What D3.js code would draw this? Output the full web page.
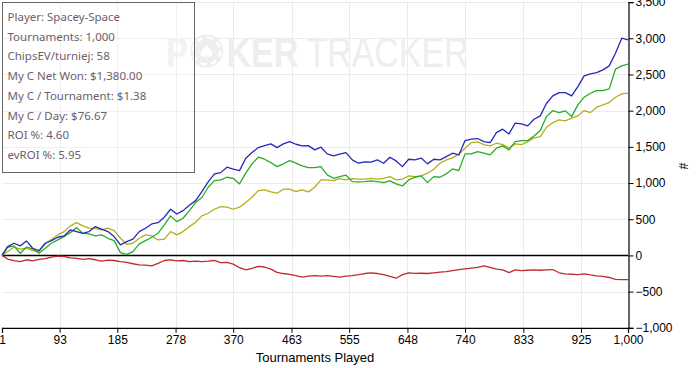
<!DOCTYPE html>
<html>
<head>
<meta charset="utf-8">
<script src="https://cdn.jsdelivr.net/npm/d3@7"></script>
<style>
  html, body { margin: 0; padding: 0; background: #fff; }
  svg { display: block; }
</style>
</head>
<body>
<svg id="chart" width="696" height="368"></svg>
<script>
// ---- data ----
const tournaments = [1,10,20,30,40,50,60,70,80,90,100,110,120,130,140,150,160,170,180,190,200,210,220,230,240,250,260,270,280,290,300,310,320,330,340,350,360,370,380,390,400,410,420,430,440,450,460,470,480,490,500,510,520,530,540,550,560,570,580,590,600,610,620,630,640,650,660,670,680,690,700,710,720,730,740,750,760,770,780,790,800,810,820,830,840,850,860,870,880,890,900,910,920,930,940,950,960,970,980,990,1000];

const blueSeries = [0,122,168,131,200,99,67,168,205,251,270,352,330,306,329,398,362,329,260,145,191,224,329,376,435,453,528,638,573,619,694,757,882,1016,1126,1144,1219,1191,1172,1343,1421,1490,1517,1541,1490,1541,1573,1536,1513,1517,1458,1495,1403,1375,1398,1421,1320,1274,1292,1288,1320,1274,1357,1306,1227,1329,1320,1345,1265,1329,1320,1366,1412,1389,1587,1606,1615,1573,1559,1697,1744,1679,1827,1817,1790,1882,1928,2103,2204,2250,2250,2204,2333,2481,2508,2526,2564,2619,2794,3001,2978];

const greenSeries = [0,113,131,30,113,90,30,99,168,214,260,315,384,306,297,270,283,237,205,39,11,53,159,205,251,306,421,546,467,514,619,730,800,942,1034,1043,1080,1066,988,1136,1265,1357,1329,1283,1227,1265,1311,1274,1237,1214,1214,1227,1113,1066,1089,1108,1020,1016,1020,1030,1020,1006,1030,988,960,1043,1080,1099,1006,1089,1080,1126,1195,1172,1403,1403,1435,1412,1389,1481,1513,1458,1573,1587,1587,1651,1725,1918,2001,1973,1997,1918,2080,2186,2241,2278,2278,2301,2573,2619,2642];

const yellowSeries = [0,53,113,86,99,67,53,159,224,283,329,408,453,408,376,371,352,376,343,237,154,168,237,283,270,214,224,329,283,329,398,458,546,583,638,675,666,638,666,730,804,896,905,878,860,915,915,882,905,878,942,1043,1043,1034,1061,1043,1061,1053,1053,1066,1053,1066,1089,1043,1053,1099,1089,1099,1136,1191,1274,1320,1348,1398,1481,1559,1569,1531,1513,1550,1531,1486,1541,1531,1573,1624,1642,1771,1835,1873,1859,1896,1928,2001,1973,2048,2080,2112,2186,2232,2241];

const redSeries = [0,-50,-72,-86,-60,-75,-55,-45,-25,-10,-15,-35,-40,-55,-45,-60,-80,-65,-70,-86,-95,-115,-131,-135,-145,-110,-70,-62,-75,-70,-85,-80,-86,-80,-70,-100,-95,-120,-170,-200,-180,-150,-160,-190,-235,-250,-262,-280,-300,-285,-280,-285,-280,-290,-300,-285,-278,-265,-250,-240,-250,-265,-290,-315,-265,-240,-248,-246,-250,-240,-230,-224,-210,-195,-185,-175,-165,-145,-165,-190,-200,-237,-200,-210,-205,-200,-205,-200,-195,-240,-256,-260,-265,-255,-270,-283,-290,-305,-330,-335,-335];

const xTickValues = [1,93,185,278,370,463,555,648,740,833,925,1000];
const yTickValues = [-1000,-500,0,500,1000,1500,2000,2500,3000,3500];

const infoLines = [
  "Player: Spacey-Space",
  "Tournaments: 1,000",
  "ChipsEV/turniej: 58",
  "My C Net Won: $1,380.00",
  "My C / Tournament: $1.38",
  "My C / Day: $76.67",
  "ROI %: 4.60",
  "evROI %: 5.95"
];
const xTitle = "Tournaments Played";
const yTitle = "#";

// ---- chart ----
const svg = d3.select("#chart");
const x = d3.scaleLinear().domain([1, 1000]).range([2, 628]);
const y = d3.scaleLinear().domain([-1000, 3500]).range([327.8, 2.1]);
const fmt = d3.format(",");

// gridlines
const grid = svg.append("g").attr("stroke", "#ebebeb").attr("stroke-width", 1);
grid.selectAll("line.h").data(yTickValues.filter(v => v !== 0 && v !== -1000)).join("line")
  .attr("x1", x(1)).attr("x2", x(1000))
  .attr("y1", d => Math.round(y(d)) + 0.5).attr("y2", d => Math.round(y(d)) + 0.5);
grid.selectAll("line.v").data(xTickValues.filter(v => v !== 1 && v !== 1000)).join("line")
  .attr("x1", d => Math.round(x(d)) + 0.5).attr("x2", d => Math.round(x(d)) + 0.5)
  .attr("y1", y(3500)).attr("y2", y(-1000));

// watermark
const wm = svg.append("g").attr("fill", "#eeeeee");
wm.append("text").attr("x", 166).attr("y", 66.5)
  .attr("font-family", "Liberation Sans, Arial, sans-serif").attr("font-weight", "bold")
  .attr("font-size", 42).attr("textLength", 22).attr("lengthAdjust", "spacingAndGlyphs").text("P");
wm.append("circle").attr("cx", 206.7).attr("cy", 51).attr("r", 16.5);
wm.append("circle").attr("cx", 206.7).attr("cy", 51).attr("r", 13.5)
  .attr("fill", "none").attr("stroke", "#fff").attr("stroke-width", 2.5)
  .attr("stroke-dasharray", "6 4.6");
wm.append("text").attr("x", 206.7).attr("y", 59).attr("text-anchor", "middle")
  .attr("fill", "#fff").attr("font-family", "DejaVu Sans, sans-serif").attr("font-size", 20).text("\u2660");
wm.append("text").attr("x", 226.5).attr("y", 66.5)
  .attr("font-family", "Liberation Sans, Arial, sans-serif").attr("font-weight", "bold")
  .attr("font-size", 42).attr("textLength", 72).attr("lengthAdjust", "spacingAndGlyphs").text("KER");
wm.append("text").attr("x", 306.5).attr("y", 66.5)
  .attr("font-family", "Liberation Sans, Arial, sans-serif")
  .attr("font-size", 42).attr("textLength", 162).attr("lengthAdjust", "spacingAndGlyphs").text("TRACKER");

// zero line
svg.append("line").attr("x1", x(1)).attr("x2", x(1000))
  .attr("y1", y(0)).attr("y2", y(0)).attr("stroke", "#000").attr("stroke-width", 1.5);

// series
const line = d3.line().x((d, i) => x(tournaments[i])).y(d => y(d));
const series = [
  { values: redSeries, color: "#c02a2e" },
  { values: yellowSeries, color: "#b5ad1e" },
  { values: greenSeries, color: "#26ad26" },
  { values: blueSeries, color: "#2828b8" }
];
svg.append("g").selectAll("path").data(series).join("path")
  .attr("d", d => line(d.values))
  .attr("fill", "none").attr("stroke", d => d.color)
  .attr("stroke-width", 1.3).attr("stroke-linejoin", "round");

// axes
const axisFont = "Liberation Sans, Arial, sans-serif";
const yAxis = svg.append("g").attr("transform", "translate(628.5,0)")
  .call(d3.axisRight(y).tickValues(yTickValues).tickFormat(fmt).tickSize(5).tickPadding(2));
const xAxis = svg.append("g").attr("transform", "translate(0,327.8)")
  .call(d3.axisBottom(x).tickValues(xTickValues).tickFormat(fmt).tickSize(5).tickPadding(3));
[yAxis, xAxis].forEach(a => {
  a.select(".domain").attr("stroke", "#000").attr("stroke-width", 1.2);
  a.selectAll(".tick line").attr("stroke", "#000");
  a.selectAll(".tick text").attr("fill", "#000").attr("font-family", axisFont).attr("font-size", 12);
});

svg.append("text").attr("x", 315).attr("y", 362).attr("text-anchor", "middle")
  .attr("font-family", axisFont).attr("font-size", 13).attr("fill", "#000").text(xTitle);
svg.append("text").attr("transform", "translate(682,166) rotate(90)").attr("text-anchor", "middle")
  .attr("dominant-baseline", "middle")
  .attr("font-family", axisFont).attr("font-size", 12).attr("fill", "#000").text(yTitle);

// info box
svg.append("rect").attr("x", 2.5).attr("y", 2.5).attr("width", 192).attr("height", 170)
  .attr("fill", "#fff").attr("fill-opacity", 0.25).attr("stroke", "#666").attr("stroke-width", 1);
svg.append("g").selectAll("text").data(infoLines).join("text")
  .attr("x", 7.5).attr("y", (d, i) => 20.8 + i * 19.75)
  .attr("font-family", "Noto Sans, Open Sans, sans-serif").attr("font-size", 11.5)
  .attr("fill", "#6e5e6a").text(d => d);
</script>
</body>
</html>
